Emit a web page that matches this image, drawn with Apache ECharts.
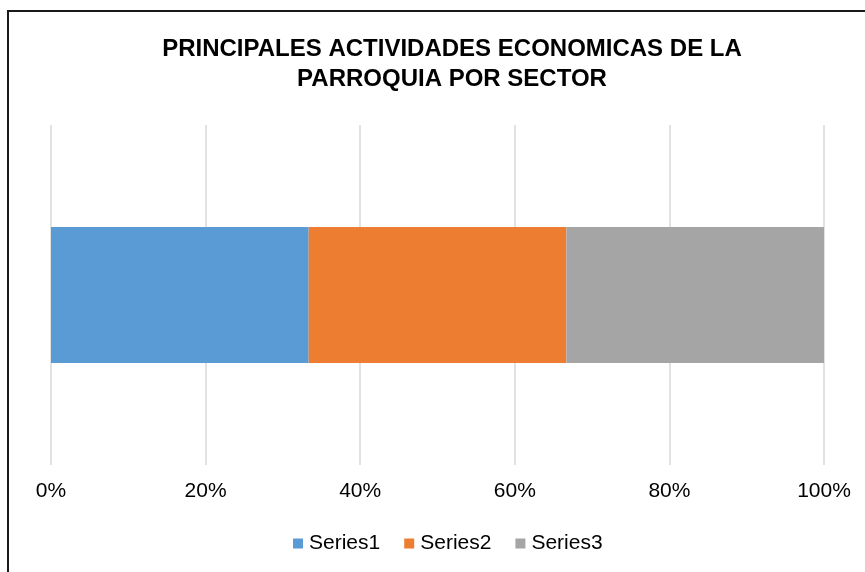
<!DOCTYPE html>
<html>
<head>
<meta charset="utf-8">
<script src="https://cdn.jsdelivr.net/npm/echarts@6/dist/echarts.min.js"></script>
<style>
  html, body { margin: 0; padding: 0; background: #fff; }
  #chart { width: 865px; height: 572px; }
</style>
</head>
<body>
<div id="chart"></div>
<script>
const titleText = 'PRINCIPALES ACTIVIDADES ECONOMICAS DE LA\nPARROQUIA POR SECTOR';
const categories = ['Sector'];
const seriesNames = ['Series1', 'Series2', 'Series3'];
const seriesValues = [[1], [1], [1]];
const seriesColors = ['#5b9bd5', '#ed7d31', '#a5a5a5'];

const fontFamily = '"Liberation Sans", Arial, sans-serif';

// 100% stacked: each value becomes its share of the category total
const totals = categories.map((_, i) => seriesValues.reduce((s, v) => s + v[i], 0));

const chart = echarts.init(document.getElementById('chart'));

const option = {
  backgroundColor: '#fff',
  animation: false,
  title: {
    text: titleText,
    left: 447,
    textAlign: 'center',
    top: 29,
    textStyle: {
      fontFamily: fontFamily,
      fontSize: 24,
      fontWeight: 'bold',
      color: '#000',
      lineHeight: 30
    }
  },
  legend: {
    data: seriesNames,
    left: 288,
    top: 528,
    itemWidth: 10,
    itemHeight: 10,
    itemGap: 24,
    icon: 'rect',
    textStyle: { fontFamily: fontFamily, fontSize: 21, color: '#000', padding: [0, 0, 0, 1] }
  },
  grid: { left: 51, right: 41, top: 125, bottom: 107 },
  xAxis: {
    type: 'value',
    min: 0,
    max: 100,
    interval: 20,
    axisLine: { show: false },
    axisTick: { show: false },
    splitLine: { lineStyle: { color: '#d9d9d9', width: 1.5 } },
    axisLabel: {
      formatter: '{value}%',
      fontFamily: fontFamily,
      fontSize: 21,
      color: '#000',
      margin: 16
    }
  },
  yAxis: {
    type: 'category',
    data: categories,
    axisLine: { show: false },
    axisTick: { show: false },
    axisLabel: { show: false }
  },
  graphic: [
    {
      type: 'rect',
      shape: { x: 8, y: 11, width: 900, height: 600 },
      style: { fill: 'none', stroke: '#1a1a1a', lineWidth: 2 },
      silent: true
    }
  ],
  series: seriesNames.map((name, k) => ({
    name: name,
    type: 'bar',
    stack: 'total',
    barWidth: '40%',
    itemStyle: { color: seriesColors[k] },
    data: seriesValues[k].map((v, i) => v / totals[i] * 100)
  }))
};

chart.setOption(option);
</script>
</body>
</html>
